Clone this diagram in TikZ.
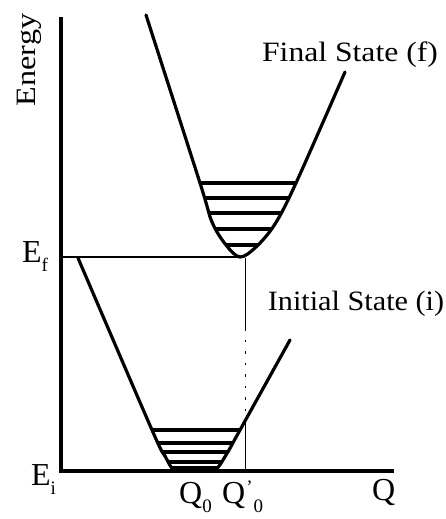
\documentclass[tikz,border=0pt]{standalone}
\usepackage{fontspec}
\setmainfont{Liberation Serif}
\newcommand\sbs[1]{\raisebox{-0.3em}{\fontsize{19}{19}\selectfont #1}}
\begin{document}
\begin{tikzpicture}[x=1pt,y=-1pt,
  curve/.style={line width=3.2pt,line join=round,line cap=round},
  axisline/.style={line width=3.4pt},
  level/.style={line width=3.2pt},
  thinline/.style={line width=1.3pt},
  lab/.style={font=\fontsize{28}{30}\selectfont,inner sep=0pt},
  symlab/.style={font=\fontsize{32}{34}\selectfont,inner sep=0pt}]
\useasboundingbox (0,0) rectangle (445,519);
\fill[white] (0,0) rectangle (445,519);

% axes
\coordinate (top) at (61,17);
\coordinate (origin) at (61,471);
\coordinate (qend) at (394,471);
\draw[axisline] (top) -- (origin) -- (qend);

% Ef line and Q'0 line
\coordinate (efl) at (61,257);
\coordinate (efr) at (238,257);
\draw[thinline] (efl) -- (efr);
\coordinate (qa) at (245.5,258);
\coordinate (qb) at (245.5,328);
\coordinate (qc) at (245.5,420);
\coordinate (qd) at (245.5,471);
\draw[line width=1.1pt] (qa) -- (qb);
\draw[line width=1.1pt,dash pattern=on 2.5pt off 9pt] (qb) -- (qc);
\draw[line width=1.1pt] (qc) -- (qd);

% final state curve with levels
\def\finalcurve{plot[smooth,tension=0.55] coordinates {(146,15) (200,183) (212,222) (226,245) (240,257) (256,247) (275,224) (296,183) (345,72)}}
\begin{scope}
  \clip \finalcurve -- cycle;
  \foreach \yy in {183,198,213,229,245}
    \draw[level] (150,\yy) -- (350,\yy);
\end{scope}
\draw[curve] \finalcurve;

% initial state curve with levels
\def\initcurve{plot[smooth,tension=0.55] coordinates {(78,258) (152,430) (165,456) (175,471) (194,474) (214,471) (226,455) (240,430) (290,340)}}
\begin{scope}
  \clip \initcurve -- cycle;
  \foreach \yy in {430,443,452,462,468}
    \draw[level] (140,\yy) -- (260,\yy);
\end{scope}
\begin{scope}
  \clip (0,0) rectangle (445,471);
  \draw[curve] \initcurve;
\end{scope}

% labels
\node[lab,rotate=90,anchor=base] (energy) at (35,60) {\scalebox{1.15}[1]{Energy}};
\node[lab,anchor=base] (final) at (350,62) {\scalebox{1.13}[1]{Final State (f)}};
\node[lab,anchor=base] (initial) at (356,310) {\scalebox{1.08}[1]{Initial State (i)}};
\node[symlab,anchor=base west] (ef) at (22,262) {E\sbs{f}};
\node[symlab,anchor=base west] (ei) at (31,485) {E\sbs{i}};
\node[symlab,anchor=base west] (q0) at (179,503) {Q\sbs{0}};
\node[symlab,anchor=base west] (q0p) at (222,503) {Q\kern1pt\raisebox{0.3em}{\fontsize{19}{19}\selectfont '}\kern1pt\sbs{0}};
\node[symlab,anchor=base west] (q) at (372,500) {Q};
\end{tikzpicture}
\end{document}
